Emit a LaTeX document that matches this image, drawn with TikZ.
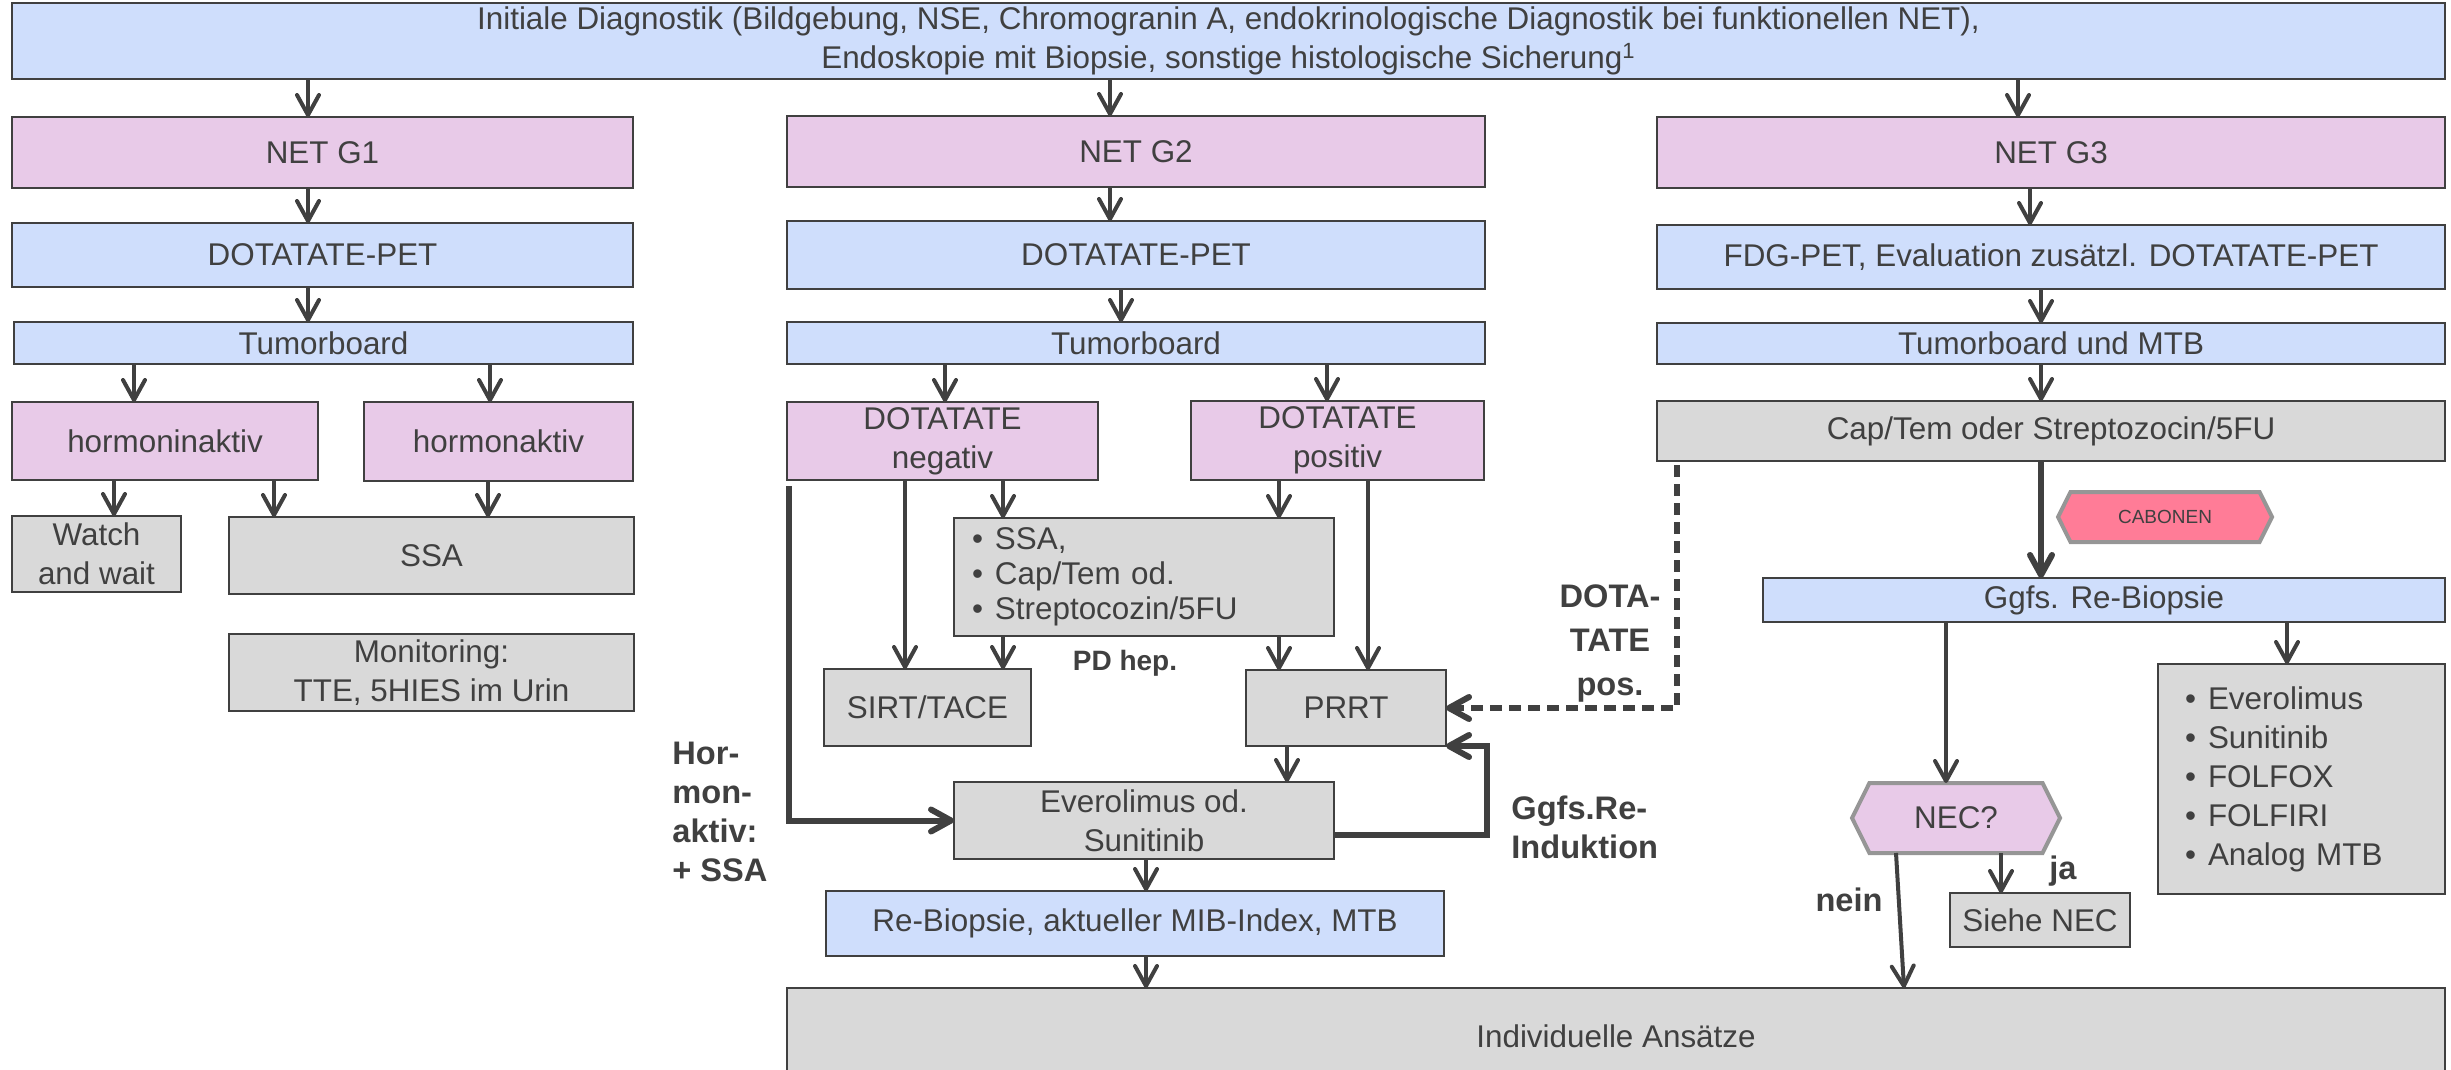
\documentclass[tikz,border=0pt]{standalone}
\usepackage{fontspec}
\setmainfont{Liberation Sans}
\usetikzlibrary{arrows.meta,shapes.symbols,calc}
\definecolor{dg}{RGB}{64,64,64}
\definecolor{cblu}{RGB}{207,222,252}
\definecolor{cpnk}{RGB}{232,202,232}
\definecolor{cgry}{RGB}{217,217,217}
\definecolor{hexb}{RGB}{150,150,150}
\definecolor{cabo}{RGB}{255,124,151}
% box from corner (x1,y1) to corner (x2,y2), in pixel units
\newcommand\bx[7]{%
  \node[#6, minimum width={(#4-#2)*0.5pt}, minimum height={(#5-#3)*0.5pt}]
    (#1) at ({(#2+#4)/2},{(#3+#5)/2}) {#7};}
\tikzset{
  base/.style={draw=dg, line width=1pt, text=dg, font=\fontsize{15.7}{19.5}\selectfont,
    align=center, inner sep=2pt, outer sep=0pt},
  blu/.style={base, fill=cblu},
  pnk/.style={base, fill=cpnk},
  gry/.style={base, fill=cgry},
  hexa/.style={base, signal, signal to=west and east, signal pointer angle=127,
    draw=hexb, line width=2pt},
  lbl/.style={text=dg, font=\bfseries\fontsize{16.3}{19.5}\selectfont, inner sep=0pt},
  arr/.style={draw=dg, line width=2pt, -{Straight Barb[length=10pt,width=11pt,round]}},
  thk/.style={draw=dg, line width=3pt, -{Straight Barb[length=10pt,width=11pt,round]}},
  dsh/.style={thk, dash pattern=on 6pt off 3.5pt},
}
\begin{document}
\begin{tikzpicture}[x=0.5pt,y=-0.5pt]
\useasboundingbox (0,0) rectangle (2451,1070);
\clip (0,0) rectangle (2451,1070);

% header
\bx{top}{12}{4}{2445}{78}{blu}{Initiale Diagnostik (Bildgebung, NSE, Chromogranin A, endokrinologische Diagnostik bei funktionellen NET),\\Endoskopie mit Biopsie, sonstige histologische Sicherung\textsuperscript{1}}

% grading columns
\bx{g1}{12}{117}{633}{188}{pnk}{NET G1}
\bx{g2}{787}{116}{1485}{187}{pnk}{NET G2}
\bx{g3}{1657}{117}{2445}{188}{pnk}{NET G3}
\bx{pet1}{12}{223}{633}{287}{blu}{DOTATATE-PET}
\bx{pet2}{787}{221}{1485}{289}{blu}{DOTATATE-PET}
\bx{pet3}{1657}{225}{2445}{289}{blu}{FDG-PET, Evaluation zusätzl. DOTATATE-PET}
\bx{tb1}{14}{322}{633}{364}{blu}{Tumorboard}
\bx{tb2}{787}{322}{1485}{364}{blu}{Tumorboard}
\bx{tb3}{1657}{323}{2445}{364}{blu}{Tumorboard und MTB}

% G1 branch
\bx{hinakt}{12}{402}{318}{480}{pnk}{hormoninaktiv}
\bx{hakt}{364}{402}{633}{481}{pnk}{hormonaktiv}
\bx{watch}{12}{516}{181}{592}{gry}{Watch\\and wait}
\bx{ssa}{229}{517}{634}{594}{gry}{SSA}
\bx{moni}{229}{634}{634}{711}{gry}{Monitoring:\\TTE, 5HIES im Urin}

% G2 branch
\bx{neg}{787}{402}{1098}{480}{pnk}{DOTATATE\\negativ}
\bx{pos}{1191}{401}{1484}{480}{pnk}{DOTATATE\\positiv}
\node[gry, align=left, text width=172pt, inner xsep=9pt,
  minimum height={(636-518)*0.5pt}, font=\fontsize{15.7}{17.5}\selectfont]
  (list1) at ({(954+1334)/2},{(518+636)/2})
  {\textbullet\hspace{6pt}SSA,\\\textbullet\hspace{6pt}Cap/Tem od.\\\textbullet\hspace{6pt}Streptocozin/5FU};
\bx{sirt}{824}{669}{1031}{746}{gry}{SIRT/TACE}
\bx{prrt}{1246}{670}{1446}{746}{gry}{PRRT}
\bx{evero}{954}{782}{1334}{859}{gry}{Everolimus od.\\Sunitinib}
\bx{rebio}{826}{891}{1444}{956}{blu}{Re-Biopsie, aktueller MIB-Index, MTB}
\bx{indiv}{787}{988}{2445}{1085}{gry}{Individuelle Ansätze}

% G3 branch
\bx{cap}{1657}{401}{2445}{461}{gry}{Cap/Tem oder Streptozocin/5FU}
\bx{cabonen}{2058}{492}{2272}{542}{hexa, fill=cabo, font=\fontsize{9.5}{12}\selectfont}{CABONEN}
\bx{ggfs}{1763}{578}{2445}{622}{blu}{Ggfs. Re-Biopsie}
\bx{nec}{1852}{783}{2060}{853}{hexa, fill=cpnk}{NEC?}
\bx{siehe}{1950}{893}{2130}{947}{gry}{Siehe NEC}
\node[gry, align=left, text width=116.5pt, inner xsep=13.5pt,
  minimum height={(894-664)*0.5pt}]
  (list2) at ({(2158+2445)/2},{(664+894)/2})
  {\textbullet\hspace{6pt}Everolimus\\\textbullet\hspace{6pt}Sunitinib\\\textbullet\hspace{6pt}FOLFOX\\\textbullet\hspace{6pt}FOLFIRI\\\textbullet\hspace{6pt}Analog MTB};

% labels
\node[lbl, align=center, font=\bfseries\fontsize{16.3}{22}\selectfont] (ldota) at (1610,643) {DOTA-\\TATE\\pos.};
\node[lbl, font=\bfseries\fontsize{14}{17}\selectfont] (lpd) at (1125,663) {PD hep.};
\node[lbl, align=left, anchor=west] (lhorm) at (672,812) {Hor-\\mon-\\aktiv:\\+ SSA};
\node[lbl, align=left, anchor=west] (lreind) at (1511,827) {Ggfs.Re-\\Induktion};
\node[lbl] (lnein) at (1849,900) {nein};
\node[lbl] (lja) at (2063,871) {ja};

% connectors: G1
\draw[arr] (top.south -| 308,0) -- (g1.north -| 308,0);
\draw[arr] (g1.south -| 308,0) -- (pet1.north -| 308,0);
\draw[arr] (pet1.south -| 308,0) -- (tb1.north -| 308,0);
\draw[arr] (tb1.south -| 134,0) -- (hinakt.north -| 134,0);
\draw[arr] (tb1.south -| 490,0) -- (hakt.north -| 490,0);
\draw[arr] (hinakt.south -| 114,0) -- (watch.north -| 114,0);
\draw[arr] (hinakt.south -| 274,0) -- (ssa.north -| 274,0);
\draw[arr] (hakt.south -| 488,0) -- (ssa.north -| 488,0);

% connectors: G2
\draw[arr] (top.south -| 1110,0) -- (g2.north -| 1110,0);
\draw[arr] (g2.south -| 1110,0) -- (pet2.north -| 1110,0);
\draw[arr] (pet2.south -| 1121,0) -- (tb2.north -| 1121,0);
\draw[arr] (tb2.south -| 945,0) -- (neg.north -| 945,0);
\draw[arr] (tb2.south -| 1327,0) -- (pos.north -| 1327,0);
\draw[thk] ($(neg.south -| 789,0)+(0,6)$) |- (evero.west);
\draw[arr] (neg.south -| 905,0) -- (sirt.north -| 905,0);
\draw[arr] (neg.south -| 1003,0) -- (list1.north -| 1003,0);
\draw[arr] (list1.south -| 1003,0) -- (sirt.north -| 1003,0);
\draw[arr] (pos.south -| 1279,0) -- (list1.north -| 1279,0);
\draw[arr] (list1.south -| 1279,0) -- (prrt.north -| 1279,0);
\draw[arr] (pos.south -| 1368,0) -- (prrt.north -| 1368,0);
\draw[arr] (prrt.south -| 1287,0) -- (evero.north -| 1287,0);
\draw[thk] (evero.east |- 0,835) -| ($(prrt.south east)+(41,0)$) -- (prrt.south east);
\draw[arr] (evero.south -| 1146,0) -- (rebio.north -| 1146,0);
\draw[arr] (rebio.south -| 1146,0) -- (indiv.north -| 1146,0);

% connectors: G3
\draw[arr] (top.south -| 2018,0) -- (g3.north -| 2018,0);
\draw[arr] (g3.south -| 2030,0) -- (pet3.north -| 2030,0);
\draw[arr] (pet3.south -| 2041,0) -- (tb3.north -| 2041,0);
\draw[arr] (tb3.south -| 2041,0) -- (cap.north -| 2041,0);
\draw[thk] (cap.south -| 2041,0) -- (ggfs.north -| 2041,0);
\draw[dsh] ($(cap.south -| 1677,0)+(0,4)$) |- (prrt.east);
\draw[arr] (ggfs.south -| 1946,0) -- (nec.north -| 1946,0);
\draw[arr] (ggfs.south -| 2287,0) -- (list2.north -| 2287,0);
\draw[arr] (nec.south -| 2001,0) -- (siehe.north -| 2001,0);
\draw[arr] (nec.south -| 1896,0) -- (indiv.north -| 1904,0);
\end{tikzpicture}
\end{document}
